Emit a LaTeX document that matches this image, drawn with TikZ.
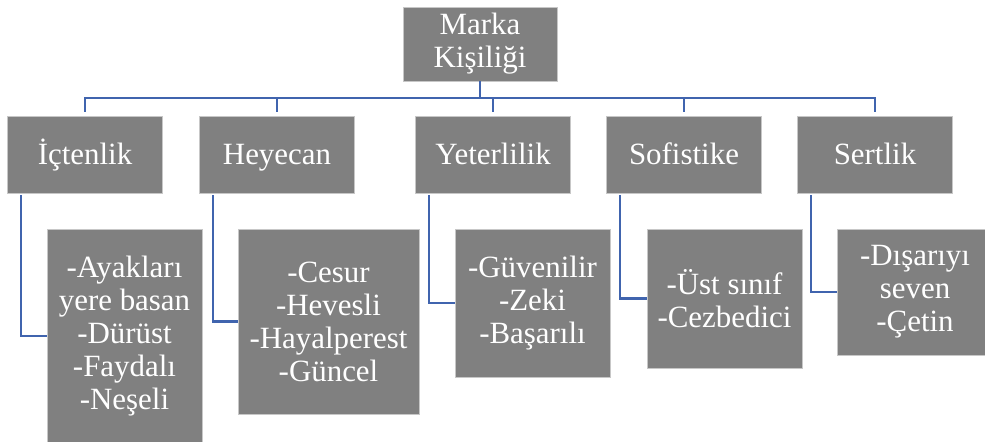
\documentclass[tikz,border=0pt]{standalone}
\usepackage{fontspec}
\setmainfont{Liberation Serif}
\usetikzlibrary{calc}
\definecolor{linkblue}{HTML}{4064AE}
\tikzstyle{box}=[rectangle,fill=black!50,draw=black!22,line width=0.5pt,text=white,align=center,inner sep=0pt,font=\fontsize{17.6}{18.8}\selectfont]
\tikzstyle{trait}=[box,minimum width=3.1cm,minimum height=1.54cm,text height=0.5cm,text depth=0.12cm]
\tikzstyle{link} = [draw,line width=1.4pt,linkblue]

\begin{document}
\begin{tikzpicture}[x=0.02cm,y=-0.02cm]
    \useasboundingbox (0,0) rectangle (985,441);
    % Top of the tree
    \node[box,minimum width=3.08cm,minimum height=1.48cm] (K) at (480,44) {Marka\\Kişiliği};

    % The five dimensions
    \foreach \pos/ \name/\txt in {{(85,154.5)/I/İçtenlik},{(277,154.5)/H/Heyecan},{(493,154.5)/Y/Yeterlilik},{(684,154.5)/So/Sofistike},{(875,154.5)/Se/Sertlik}}
        \node[trait] (\name) at \pos {\txt};

    % Their traits
    \foreach \pos/ \name/\w/\h/\txt in {{(124.5,336)/IL/3.1/4.28/{-Ayakları\\yere basan\\-Dürüst\\-Faydalı\\-Neşeli}},
        {(328.5,321.5)/HL/3.62/3.7/{-Cesur\\-Hevesli\\-Hayalperest\\-Güncel}},
        {(532.5,303)/YL/3.1/2.96/{-Güvenilir\\-Zeki\\-Başarılı}},
        {(724.5,298.5)/SoL/3.1/2.78/{-Üst sınıf\\-Cezbedici}},
        {(915,292)/SeL/3.1/2.52/{-Dışarıyı\\seven\\-Çetin}}}
        \node[box,minimum width=\w cm,minimum height=\h cm] (\name) at \pos {\txt};

    % Connect the top with the dimensions
    \coordinate (bus) at (480,98);
    \path[link] (K.south) -- (bus);
    \foreach \dest in {I,H,Y,So,Se}
        \path[link,shorten >=0.07cm] (bus) -| (\dest.north);

    % Connect each dimension with its traits
    \foreach \source/ \dest in {I/IL,H/HL,Y/YL,So/SoL,Se/SeL}
        \path[link] ([xshift=0.28cm,yshift=-0.04cm]\source.south west) |- (\dest.west);
\end{tikzpicture}
\end{document}
